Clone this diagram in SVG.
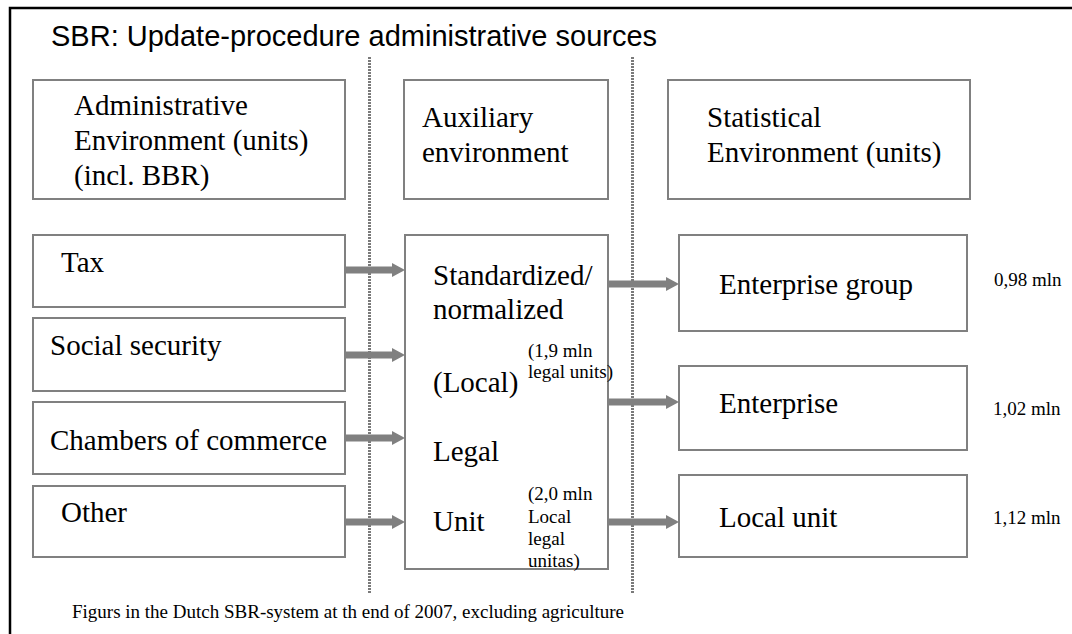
<svg xmlns="http://www.w3.org/2000/svg" width="1072" height="634" viewBox="0 0 1072 634">
<style>
.box{fill:#fff;stroke:#808080;stroke-width:2}
.t{font-family:"Liberation Serif","Times New Roman",serif;font-size:29px;fill:#000}
.s{font-family:"Liberation Serif","Times New Roman",serif;font-size:19px;fill:#000}
.title{font-family:"Liberation Sans",Arial,sans-serif;font-size:29px;fill:#000}
.sep{stroke:#7a7a7a;stroke-width:3;stroke-dasharray:2,1;fill:none}
.arr{stroke:#808080;stroke-width:7;fill:none;marker-end:url(#ah)}
</style>
<defs>
<marker id="ah" markerUnits="userSpaceOnUse" viewBox="0 0 13 14" markerWidth="13" markerHeight="14" refX="2" refY="7" orient="auto">
<path d="M0,0 L13,7 L0,14 z" fill="#808080"/>
</marker>
</defs>
<rect width="1072" height="634" fill="#fff"/>
<path d="M10,634 V8 H1072" fill="none" stroke="#000" stroke-width="2.5"/>
<text class="title" x="51" y="46">SBR: Update-procedure administrative sources</text>
<g id="separators">
<line class="sep" x1="369.5" y1="57" x2="369.5" y2="593"/>
<line class="sep" x1="632.5" y1="57" x2="632.5" y2="593"/>
</g>
<g id="admin-header">
<rect class="box" x="33" y="80" width="312" height="119"/>
<text class="t" x="74" y="115">Administrative</text>
<text class="t" x="74" y="150">Environment (units)</text>
<text class="t" x="74" y="185">(incl. BBR)</text>
</g>
<g id="aux-header">
<rect class="box" x="404" y="80" width="204" height="119"/>
<text class="t" x="422" y="127">Auxiliary</text>
<text class="t" x="422" y="162">environment</text>
</g>
<g id="stat-header">
<rect class="box" x="668" y="80" width="302" height="119"/>
<text class="t" x="707" y="127">Statistical</text>
<text class="t" x="707" y="162">Environment (units)</text>
</g>
<g id="tax">
<rect class="box" x="33" y="235" width="312" height="72"/>
<text class="t" x="61" y="272">Tax</text>
</g>
<g id="social">
<rect class="box" x="33" y="318" width="312" height="73"/>
<text class="t" x="50" y="355">Social security</text>
</g>
<g id="chambers">
<rect class="box" x="33" y="402" width="312" height="72"/>
<text class="t" x="50" y="450">Chambers of commerce</text>
</g>
<g id="other">
<rect class="box" x="33" y="486" width="312" height="71"/>
<text class="t" x="61" y="522">Other</text>
</g>
<g id="legal-unit">
<rect class="box" x="405" y="235" width="203" height="334"/>
<text class="t" x="433" y="285">Standardized/</text>
<text class="t" x="433" y="319">normalized</text>
<text class="t" x="433" y="392">(Local)</text>
<text class="t" x="433" y="461">Legal</text>
<text class="t" x="433" y="531">Unit</text>
<text class="s" x="528" y="357">(1,9 mln</text>
<text class="s" x="528" y="378">legal units)</text>
<text class="s" x="528" y="500">(2,0 mln</text>
<text class="s" x="528" y="523">Local</text>
<text class="s" x="528" y="545">legal</text>
<text class="s" x="528" y="567">unitas)</text>
</g>
<g id="enterprise-group">
<rect class="box" x="679" y="235" width="288" height="96"/>
<text class="t" x="719" y="294">Enterprise group</text>
<text class="s" x="994" y="286">0,98 mln</text>
</g>
<g id="enterprise">
<rect class="box" x="679" y="366" width="288" height="84"/>
<text class="t" x="719" y="413">Enterprise</text>
<text class="s" x="993" y="415">1,02 mln</text>
</g>
<g id="local-unit">
<rect class="box" x="679" y="475" width="288" height="82"/>
<text class="t" x="719" y="527">Local unit</text>
<text class="s" x="993" y="524">1,12 mln</text>
</g>
<g id="connectors">
<line class="arr" x1="345" y1="270" x2="394" y2="270"/>
<line class="arr" x1="345" y1="355" x2="394" y2="355"/>
<line class="arr" x1="345" y1="438" x2="394" y2="438"/>
<line class="arr" x1="345" y1="522" x2="394" y2="522"/>
<line class="arr" x1="608" y1="284" x2="668" y2="284"/>
<line class="arr" x1="608" y1="402" x2="668" y2="402"/>
<line class="arr" x1="608" y1="522" x2="668" y2="522"/>
</g>
<text class="s" x="72" y="618">Figurs in the Dutch SBR-system at th end of 2007, excluding agriculture</text>
</svg>
